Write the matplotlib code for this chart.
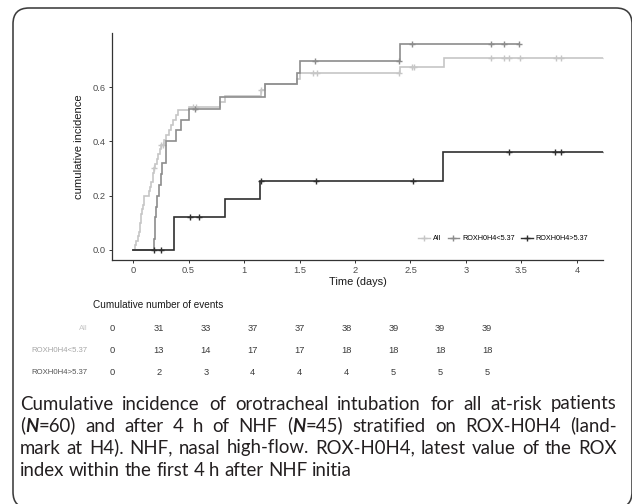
import numpy as np
import matplotlib
matplotlib.use("Agg")
import matplotlib.pyplot as plt
from matplotlib.lines import Line2D
from matplotlib.patches import FancyBboxPatch
from matplotlib.transforms import IdentityTransform

# ---------------------------------------------------------------- data
groups = ["All", "ROXH0H4<5.37", "ROXH0H4>5.37"]
time_ticks = [0, 0.5, 1, 1.5, 2, 2.5, 3, 3.5, 4]
time_tick_labels = ["0", "0.5", "1", "1.5", "2", "2.5", "3", "3.5", "4"]
inc_ticks = [0.0, 0.2, 0.4, 0.6]
inc_tick_labels = ["0.0", "0.2", "0.4", "0.6"]

# event times (days) and cumulative incidence after each event
all_times = [0.02, 0.03, 0.04, 0.05, 0.06, 0.065, 0.07, 0.075, 0.08, 0.09, 0.095, 0.10,
             0.145, 0.155, 0.165, 0.175, 0.18, 0.19,
             0.20, 0.215, 0.225, 0.24, 0.255,
             0.28, 0.30, 0.32, 0.34, 0.36, 0.385, 0.405,
             0.50, 0.78, 0.83, 1.15, 1.19, 1.475, 1.50, 2.41, 2.80]
all_cuminc = [0.017, 0.033, 0.050, 0.067, 0.083, 0.100, 0.117, 0.133, 0.150, 0.167, 0.183, 0.200,
              0.217, 0.233, 0.250, 0.267, 0.283, 0.300,
              0.317, 0.335, 0.352, 0.370, 0.387,
              0.405, 0.424, 0.442, 0.461, 0.479, 0.498, 0.516,
              0.526, 0.546, 0.567, 0.588, 0.610, 0.630, 0.650, 0.673, 0.708]
all_censor = [0.19, 0.255, 0.27, 0.54, 0.57, 1.15, 1.625, 1.66, 2.40, 2.51, 2.53,
              3.23, 3.34, 3.39, 3.49, 3.81, 3.86, 4.26]
all_end = 4.26

low_times = [0.19, 0.195, 0.20, 0.21, 0.22, 0.235, 0.25, 0.26, 0.295, 0.30, 0.39, 0.43,
             0.50, 0.78, 1.19, 1.475, 1.50, 2.41]
low_cuminc = [0.04, 0.08, 0.12, 0.16, 0.20, 0.24, 0.28, 0.32, 0.36, 0.40, 0.44, 0.48,
              0.52, 0.565, 0.61, 0.65, 0.696, 0.76]
low_censor = [0.56, 1.64, 2.40, 2.51, 3.23, 3.34, 3.48]
low_end = 3.48

high_times = [0.37, 0.83, 1.14, 2.79]
high_cuminc = [0.12, 0.187, 0.254, 0.36]
high_censor = [0.19, 0.25, 0.51, 0.59, 1.15, 1.65, 2.52, 3.39, 3.80, 3.86, 4.26]
high_end = 4.26

# cumulative number of events at each time tick
events_all = [0, 31, 33, 37, 37, 38, 39, 39, 39]
events_low = [0, 13, 14, 17, 17, 18, 18, 18, 18]
events_high = [0, 2, 3, 4, 4, 4, 5, 5, 5]

colors = ["#c6c6c6", "#8c8c8c", "#2f2f2f"]
label_colors = ["#c8c8c8", "#a6a6a6", "#555555"]

caption_lines = [
    [("Cumulative incidence of orotracheal intubation for all at-risk patients", "normal")],
    [("(", "normal"), ("N", "bi"), ("=60) and after 4 h of NHF (", "normal"), ("N", "bi"),
     ("=45) stratified on ROX-H0H4 (land-", "normal")],
    [("mark at H4). NHF, nasal high-flow. ROX-H0H4, latest value of the ROX", "normal")],
    [("index within the first 4 h after NHF initia", "normal")],
]

# ---------------------------------------------------------------- figure
W, H, DPI = 632, 504, 100
plt.rcParams['font.family'] = ['Liberation Sans', 'DejaVu Sans']
fig = plt.figure(figsize=(W / DPI, H / DPI), dpi=DPI)
fig.patch.set_facecolor("white")


def px_rect(left, top, right, bottom):
    return [left / W, 1 - bottom / H, (right - left) / W, (bottom - top) / H]


# rounded frame around the whole panel
frame = FancyBboxPatch((13, -4), 619, 500, boxstyle="round,pad=0,rounding_size=16",
                       transform=IdentityTransform(), facecolor="none",
                       edgecolor="#3c3c3c", lw=1.15)
fig.add_artist(frame)

# ---------------------------------------------------------------- curves
ax = fig.add_axes(px_rect(112, 33, 603, 260))


def step_value(times, values, t):
    i = np.searchsorted(np.asarray(times), t, side="right") - 1
    return 0.0 if i < 0 else values[i]


series = [(all_times, all_cuminc, all_censor, all_end),
          (low_times, low_cuminc, low_censor, low_end),
          (high_times, high_cuminc, high_censor, high_end)]

for (times, vals, cens, t_end), col, name in zip(series, colors, groups):
    t = np.concatenate([[0.0], times, [t_end]])
    v = np.concatenate([[0.0], vals, [vals[-1]]])
    ax.step(t, v, where="post", color=col, lw=1.2, solid_joinstyle="miter")
    cy = [step_value(times, vals, c) for c in cens]
    ax.plot(cens, cy, ls="none", marker="+", ms=5, mew=1.0, color=col)

ax.set_xlim(-0.19, 4.235)
ax.set_ylim(-0.037, 0.799)
ax.set_xticks(time_ticks)
ax.set_xticklabels(time_tick_labels)
ax.set_yticks(inc_ticks)
ax.set_yticklabels(inc_tick_labels)
for s in ["top", "right"]:
    ax.spines[s].set_visible(False)
for s in ["left", "bottom"]:
    ax.spines[s].set_color("#333333")
    ax.spines[s].set_linewidth(0.9)
ax.tick_params(axis="both", length=2.5, width=0.7, color="#333333",
               labelsize=6.7, labelcolor="#4d4d4d", pad=2)
ax.set_xlabel("Time (days)", fontsize=7.9, color="#1a1a1a", labelpad=1)
ax.set_ylabel("cumulative incidence", fontsize=8.1, color="#1a1a1a", labelpad=6)

handles = [Line2D([], [], color=c, lw=1.0, marker="+", ms=5, mew=1.0) for c in colors]
ax.legend(handles, groups, loc="center", bbox_to_anchor=(0.797, 0.093), ncol=3,
          frameon=False, fontsize=5.2, handlelength=1.6, handletextpad=0.4,
          columnspacing=0.9, borderpad=0.1)

# ---------------------------------------------------------------- events table
tab = fig.add_axes(px_rect(112, 295, 487, 385))
tab.set_xlim(0, 4)
tab.set_ylim(2.59, -1.5)
tab.axis("off")
tab.text(-0.2, -1.05, "Cumulative number of events", fontsize=7.2, color="#1a1a1a",
         ha="left", va="center")
for row, (name, counts, lc) in enumerate(zip(groups, [events_all, events_low, events_high],
                                              label_colors)):
    tab.text(-0.256, row, name, fontsize=5.6, color=lc, ha="right", va="center")
    for t, n in zip(time_ticks, counts):
        tab.text(t, row, str(n), fontsize=6.7, color="#3a3a3a", ha="center", va="center")

# ---------------------------------------------------------------- caption (justified)
renderer = fig.canvas.get_renderer()
cap_family = ["Lato", "DejaVu Sans"]
cap_left, cap_right = 20.0, 616.5
avail = cap_right - cap_left


def run_kw(style, size):
    kw = dict(family=cap_family, fontsize=size, color="#231f20", ha="left", va="baseline")
    if style == "bi":
        kw.update(weight="bold", style="italic")
    return kw


def measure(text, style, size):
    t = fig.text(0, 0, text, **run_kw(style, size))
    w = t.get_window_extent(renderer).width
    t.remove()
    return w


def split_words(pieces):
    words = [[]]
    for text, style in pieces:
        for k, part in enumerate(text.split(" ")):
            if k > 0:
                words.append([])
            if part:
                words[-1].append((part, style))
    return [w for w in words if w]


line_words = [split_words(p) for p in caption_lines]


def line_widths(size):
    return [[sum(measure(s, st, size) for s, st in w) for w in words] for words in line_words]


base_size = 13.4
space0 = measure("x x", "normal", base_size) - measure("xx", "normal", base_size)
w0 = line_widths(base_size)
# every justified line must fit with word gaps of at least 0.55 of a space,
# and the first line should need no squeezing at all
limits = [avail / (sum(ws) + 0.55 * space0 * (len(ws) - 1)) for ws in w0]
limits.append(avail / (sum(w0[0]) + space0 * (len(w0[0]) - 1)))
scale = min([1.0] + limits)
cap_size = base_size * scale
space_w = measure("x x", "normal", cap_size) - measure("xx", "normal", cap_size)
widths = line_widths(cap_size)

baselines = [409.5, 431.5, 453.5, 475.5]
for li, (words, ws, yb) in enumerate(zip(line_words, widths, baselines)):
    if li < len(line_words) - 1 and len(words) > 1:
        gap = (avail - sum(ws)) / (len(words) - 1)
    else:
        gap = space_w
    x = cap_left
    for word, wdt in zip(words, ws):
        xr = x
        for text, style in word:
            t = fig.text(xr / W, 1 - yb / H, text, **run_kw(style, cap_size))
            xr += t.get_window_extent(renderer).width
        x += wdt + gap

fig.savefig("out.png", dpi=DPI)
